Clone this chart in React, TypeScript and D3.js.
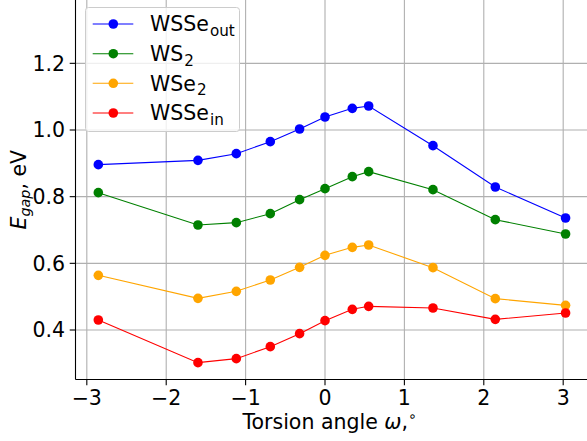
import React from "react";
import * as d3 from "d3";

const torsion = [-2.855, -1.6, -1.117, -0.689, -0.32, 0, 0.344, 0.55, 1.36, 2.145, 3.03];
const wsseOut = [0.896, 0.909, 0.929, 0.965, 1.003, 1.039, 1.065, 1.072, 0.953, 0.829, 0.736];
const ws2 = [0.812, 0.715, 0.722, 0.749, 0.791, 0.824, 0.86, 0.875, 0.821, 0.731, 0.688];
const wse2 = [0.564, 0.495, 0.516, 0.55, 0.588, 0.624, 0.648, 0.655, 0.587, 0.494, 0.474];
const wsseIn = [0.43, 0.302, 0.314, 0.35, 0.389, 0.428, 0.462, 0.471, 0.466, 0.432, 0.451];

const xTicks = [-3, -2, -1, 0, 1, 2, 3];
const yTicks = [0.4, 0.6, 0.8, 1.0, 1.2];

const seriesNames = [
  { base: "WSSe", sub: "out" },
  { base: "WS", sub: "2" },
  { base: "WSe", sub: "2" },
  { base: "WSSe", sub: "in" },
];
const seriesValues = [wsseOut, ws2, wse2, wsseIn];
const seriesColors = ["#0000ff", "#008000", "#ffa500", "#ff0000"];

const W = 587;
const H = 441;
const L = 75.5, R = 588, T = 0, B = 379.5;
const FONT = "'DejaVu Sans', sans-serif";
const FS = 20.5;

export default function App() {
  const x = d3.scaleLinear().domain([-3.1425, 3.3125]).range([L, R]);
  const y = d3.scaleLinear().domain([0.2515, 1.39]).range([B, T]);
  const line = d3
    .line<[number, number]>()
    .x((d) => x(d[0]))
    .y((d) => y(d[1]));

  const legendRowY = [24, 53.7, 83.3, 113];

  return (
    <svg
      width={W}
      height={H}
      style={{ position: "fixed", left: 0, top: 0, background: "#fff" }}
      fontFamily={FONT}
    >
      <rect x={0} y={0} width={W} height={H} fill="#fff" />
      {xTicks.map((t) => (
        <line key={"gx" + t} x1={x(t)} x2={x(t)} y1={T} y2={B} stroke="#b0b0b0" strokeWidth={1.1} />
      ))}
      {yTicks.map((t) => (
        <line key={"gy" + t} x1={L} x2={R} y1={y(t)} y2={y(t)} stroke="#b0b0b0" strokeWidth={1.1} />
      ))}
      {seriesValues.map((vals, i) => {
        const pts = torsion.map((t, j) => [t, vals[j]] as [number, number]);
        return (
          <g key={"s" + i}>
            <path d={line(pts) || ""} fill="none" stroke={seriesColors[i]} strokeWidth={1.1} />
            {pts.map((p, j) => (
              <circle key={j} cx={x(p[0])} cy={y(p[1])} r={4.8} fill={seriesColors[i]} />
            ))}
          </g>
        );
      })}
      <line x1={L} x2={L} y1={T} y2={B} stroke="#000" strokeWidth={1.1} />
      <line x1={L} x2={R} y1={B} y2={B} stroke="#000" strokeWidth={1.1} />
      {xTicks.map((t) => (
        <g key={"xt" + t}>
          <line x1={x(t)} x2={x(t)} y1={B} y2={B + 5.8} stroke="#000" strokeWidth={1.1} />
          <text x={x(t)} y={404.5} textAnchor="middle" fontSize={FS} fill="#000">
            {t < 0 ? "\u2212" + Math.abs(t) : String(t)}
          </text>
        </g>
      ))}
      {yTicks.map((t) => (
        <g key={"yt" + t}>
          <line x1={L - 5.8} x2={L} y1={y(t)} y2={y(t)} stroke="#000" strokeWidth={1.1} />
          <text x={L - 10.5} y={y(t) + 7.3} textAnchor="end" fontSize={FS} fill="#000">
            {t.toFixed(1)}
          </text>
        </g>
      ))}
      <text x={(L + R) / 2 - 2} y={429} textAnchor="middle" fontSize={FS} fill="#000">
        Torsion angle <tspan fontStyle="italic">ω</tspan>,<tspan dy={-8} fontSize={FS * 0.7}>∘</tspan>
      </text>
      <text
        transform={`translate(26, ${(T + B) / 2}) rotate(-90)`}
        textAnchor="middle"
        fontSize={FS}
        fill="#000"
      >
        <tspan fontStyle="italic">E</tspan>
        <tspan fontStyle="italic" fontSize={FS * 0.7} dy={4}>gap</tspan>
        <tspan dy={-4}>, eV</tspan>
      </text>
      <rect
        x={85.5}
        y={7.5}
        width={154}
        height={124}
        rx={3}
        fill="#fff"
        fillOpacity={0.8}
        stroke="#cccccc"
        strokeWidth={1}
      />
      {seriesNames.map((s, i) => (
        <g key={"lg" + i}>
          <line x1={92.7} x2={133.3} y1={legendRowY[i]} y2={legendRowY[i]} stroke={seriesColors[i]} strokeWidth={1.1} />
          <circle cx={113.3} cy={legendRowY[i]} r={4.8} fill={seriesColors[i]} />
          <text x={150} y={legendRowY[i] + 7.3} fontSize={FS} fill="#000">
            {s.base}
            <tspan fontSize={FS * 0.74} dx={1} dy={4.5}>{s.sub}</tspan>
          </text>
        </g>
      ))}
    </svg>
  );
}
